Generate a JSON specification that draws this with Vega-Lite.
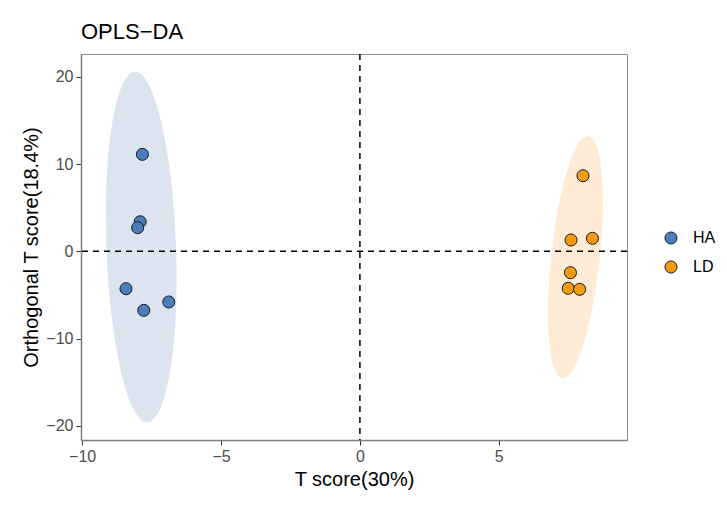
{
  "$schema": "https://vega.github.io/schema/vega-lite/v6.json",
  "width": 546,
  "height": 386,
  "autosize": "none",
  "padding": {"left": 81, "top": 54, "right": 100, "bottom": 67},
  "background": "white",
  "title": {
    "text": "OPLS−DA",
    "anchor": "start",
    "frame": "group",
    "font": "Liberation Sans",
    "fontSize": 22,
    "fontWeight": "normal",
    "color": "black",
    "baseline": "alphabetic",
    "offset": -8
  },
  "config": {
    "view": {"stroke": "#8c8c8c", "strokeWidth": 1},
    "axis": {
      "grid": false,
      "labelFont": "Liberation Sans",
      "labelFontSize": 16,
      "labelColor": "#4d4d4d",
      "titleFont": "Liberation Sans",
      "titleFontSize": 20,
      "titleFontWeight": "normal",
      "titleColor": "black",
      "domainColor": "#7f7f7f",
      "domainWidth": 1.5,
      "tickColor": "#333333",
      "tickSize": 5,
      "labelPadding": 3
    },
    "legend": {
      "labelFont": "Liberation Sans",
      "labelFontSize": 16,
      "labelColor": "black"
    }
  },
  "datasets": {
    "scores": [
      {"group": "HA", "t": -7.83, "o": 11.12},
      {"group": "HA", "t": -7.91, "o": 3.39},
      {"group": "HA", "t": -8.0, "o": 2.71},
      {"group": "HA", "t": -8.42, "o": -4.29},
      {"group": "HA", "t": -7.78, "o": -6.77},
      {"group": "HA", "t": -6.88, "o": -5.81},
      {"group": "LD", "t": 8.03, "o": 8.67},
      {"group": "LD", "t": 7.6, "o": 1.3},
      {"group": "LD", "t": 8.37, "o": 1.49},
      {"group": "LD", "t": 7.58, "o": -2.45},
      {"group": "LD", "t": 7.5, "o": -4.24},
      {"group": "LD", "t": 7.91, "o": -4.36}
    ],
    "ellipses": [
      {"group": "HA", "t": -7.87, "o": 0.49},
      {"group": "LD", "t": 7.76, "o": -0.68}
    ],
    "refs": [
      {"ref": 0}
    ]
  },
  "layer": [
    {
      "data": {"name": "ellipses"},
      "transform": [{"filter": "datum.group === 'HA'"}],
      "mark": {
        "type": "point", "filled": true, "opacity": 1, "size": 4, "strokeWidth": 0,
        "fill": "#dce4f0",
        "shape": "M -6.34 -175.3 A 175.4 34.8 87.93 1 1 6.34 175.3 A 175.4 34.8 87.93 1 1 -6.34 -175.3 Z"
      },
      "encoding": {
        "x": {"field": "t", "type": "quantitative"},
        "y": {"field": "o", "type": "quantitative"}
      }
    },
    {
      "data": {"name": "ellipses"},
      "transform": [{"filter": "datum.group === 'LD'"}],
      "mark": {
        "type": "point", "filled": true, "opacity": 1, "size": 4, "strokeWidth": 0,
        "fill": "#fdebd6",
        "shape": "M 12.98 -121.1 A 121.8 24 96.12 1 1 -12.98 121.1 A 121.8 24 96.12 1 1 12.98 -121.1 Z"
      },
      "encoding": {
        "x": {"field": "t", "type": "quantitative"},
        "y": {"field": "o", "type": "quantitative"}
      }
    },
    {
      "data": {"name": "refs"},
      "mark": {"type": "rule", "strokeDash": [6, 5], "strokeWidth": 1.5, "color": "black"},
      "encoding": {"x": {"field": "ref", "type": "quantitative"}}
    },
    {
      "data": {"name": "refs"},
      "mark": {"type": "rule", "strokeDash": [6, 5], "strokeWidth": 1.5, "color": "black"},
      "encoding": {"y": {"field": "ref", "type": "quantitative"}}
    },
    {
      "data": {"name": "scores"},
      "mark": {"type": "point", "filled": true, "opacity": 1, "size": 145, "stroke": "#1a1a1a", "strokeWidth": 1, "shape": "circle"},
      "encoding": {
        "x": {
          "field": "t",
          "type": "quantitative",
          "scale": {"domain": [-10.04, 9.615], "nice": false, "zero": false},
          "axis": {"title": "T score(30%)", "values": [-10, -5, 0, 5], "titlePadding": 5}
        },
        "y": {
          "field": "o",
          "type": "quantitative",
          "scale": {"domain": [-21.64, 22.63], "nice": false, "zero": false},
          "axis": {"title": "Orthogonal T score(18.4%)", "values": [-20, -10, 0, 10, 20], "titlePadding": 4}
        },
        "color": {
          "field": "group",
          "type": "nominal",
          "scale": {"domain": ["HA", "LD"], "range": ["#4a7ebb", "#f39b11"]},
          "legend": {
            "title": null,
            "orient": "none",
            "legendX": 582,
            "legendY": 176,
            "symbolType": "circle",
            "symbolSize": 145,
            "symbolStrokeColor": "#1a1a1a",
            "symbolStrokeWidth": 1,
            "symbolOpacity": 1,
            "rowPadding": 11,
            "labelOffset": 14,
            "labelLimit": 100
          }
        }
      }
    }
  ]
}
